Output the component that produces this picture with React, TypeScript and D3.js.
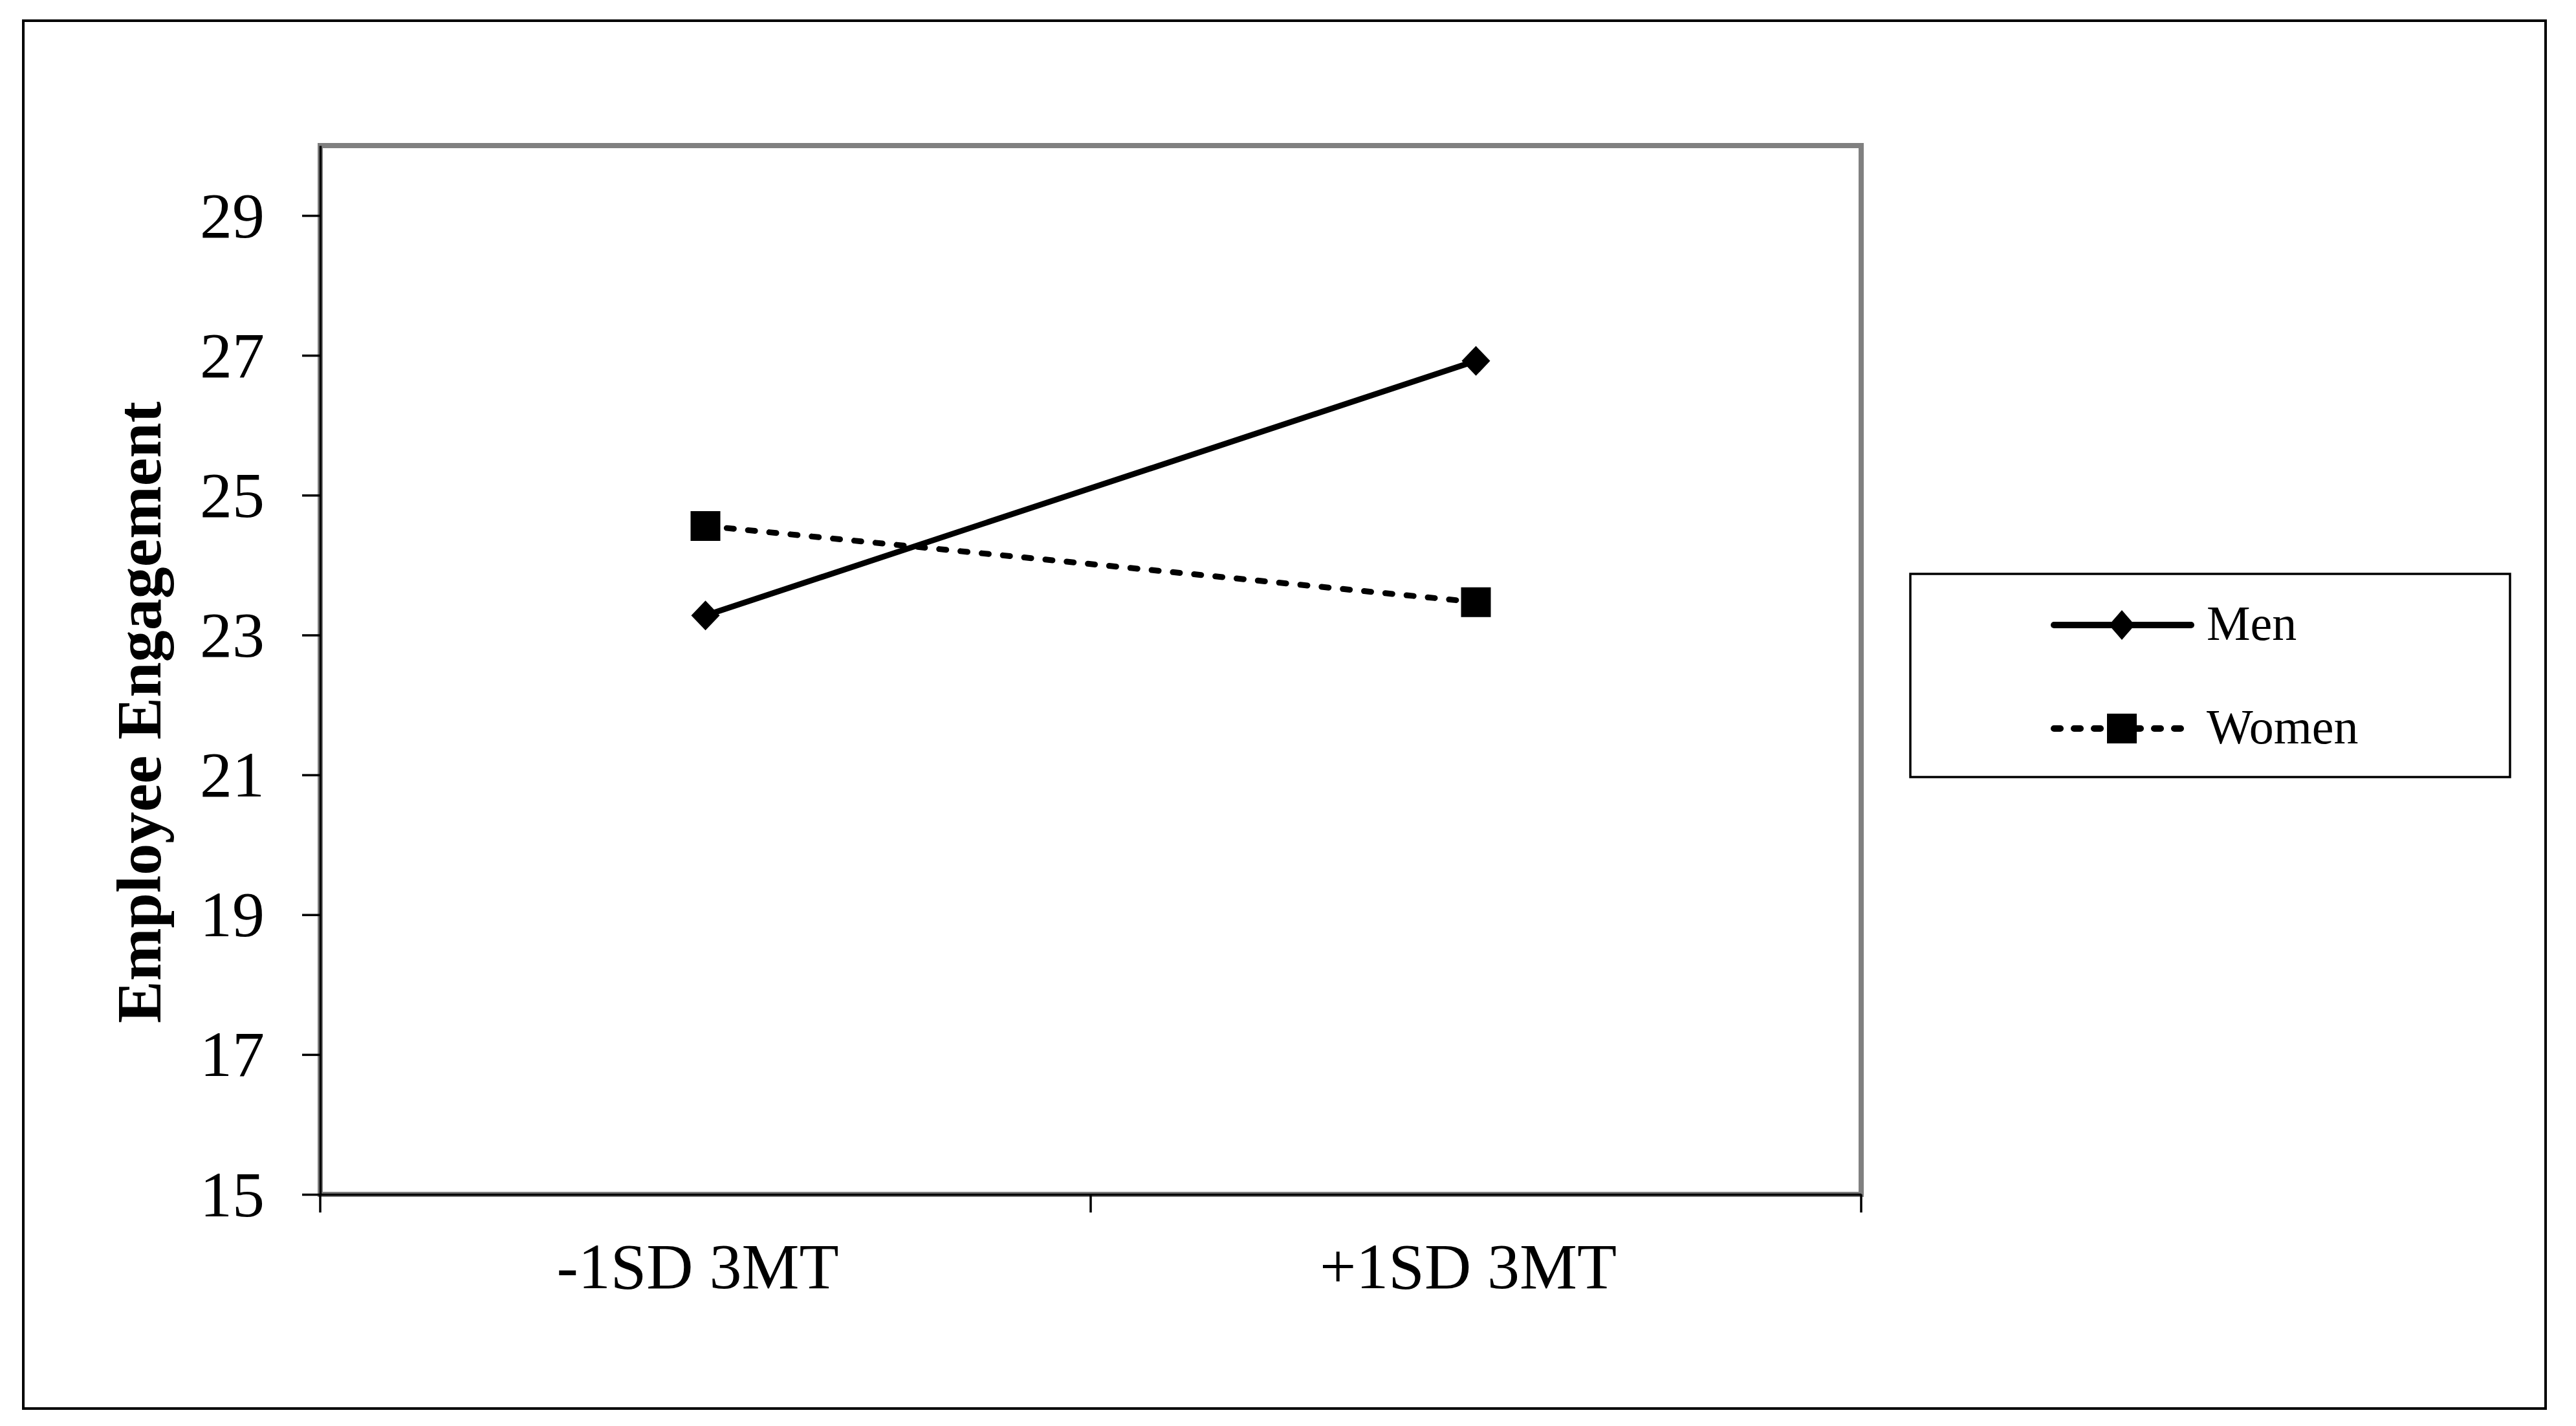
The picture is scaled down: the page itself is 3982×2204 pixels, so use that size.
import React, { useRef, useEffect } from "react";
import * as d3 from "d3";

// chart values
const categories = ["-1SD 3MT", "+1SD 3MT"];
const seriesNames = ["Men", "Women"];
const menValues = [23.28, 26.92];
const womenValues = [24.56, 23.47];
const yTicks = [15, 17, 19, 21, 23, 25, 27, 29];
const yDomain = [15, 30];
const yTitle = "Employee Engagement";

const FONT = "'Liberation Serif', 'Times New Roman', Times, serif";

const App = () => {
    const ref = useRef(null);

    const width = 3982;
    const height = 2204;
    const plot = { left: 495, top: 225, right: 2877, bottom: 1846 };

    useEffect(() => {
        const svg = d3.select(ref.current);
        svg.selectAll("*").remove();

        // outer chart border
        svg.append("rect")
            .attr("x", 36)
            .attr("y", 32)
            .attr("width", 3935 - 36)
            .attr("height", 2177 - 32)
            .attr("fill", "white")
            .attr("stroke", "black")
            .attr("stroke-width", 4);

        const x = d3.scaleBand()
            .domain(categories)
            .range([plot.left, plot.right])
            .paddingInner(0)
            .paddingOuter(0);

        const y = d3.scaleLinear()
            .domain(yDomain)
            .range([plot.bottom, plot.top]);

        const cx = (c) => x(c) + x.bandwidth() / 2;

        // grey plot frame
        svg.append("rect")
            .attr("x", plot.left)
            .attr("y", plot.top)
            .attr("width", plot.right - plot.left)
            .attr("height", plot.bottom - plot.top)
            .attr("fill", "white")
            .attr("stroke", "#808080")
            .attr("stroke-width", 8);

        // y axis
        const yAxis = svg.append("g")
            .attr("transform", `translate(${plot.left},0)`)
            .call(d3.axisLeft(y).tickValues(yTicks).tickSize(28).tickSizeOuter(0).tickPadding(58).tickFormat(d3.format("d")));
        yAxis.select(".domain").attr("stroke", "black").attr("stroke-width", 3.5);
        yAxis.selectAll(".tick line").attr("stroke", "black").attr("stroke-width", 3.5);
        yAxis.selectAll(".tick text")
            .attr("font-family", FONT)
            .attr("font-size", 100)
            .attr("fill", "black")
            .attr("dy", "0.33em");

        // x axis: labels at band centres, ticks at band edges
        const xAxis = svg.append("g")
            .attr("transform", `translate(0,${plot.bottom})`)
            .call(d3.axisBottom(x).tickSize(0).tickSizeOuter(0).tickPadding(74));
        xAxis.select(".domain").attr("stroke", "black").attr("stroke-width", 3.5);
        xAxis.selectAll(".tick text")
            .attr("font-family", FONT)
            .attr("font-size", 100)
            .attr("fill", "black")
            .attr("dx", -12);

        const edges = [x.range()[0]].concat(categories.map((c) => x(c) + x.bandwidth()));
        xAxis.selectAll(".edge")
            .data(edges)
            .join("line")
            .attr("class", "edge")
            .attr("x1", (d) => d)
            .attr("x2", (d) => d)
            .attr("y1", 0)
            .attr("y2", 28)
            .attr("stroke", "black")
            .attr("stroke-width", 3.5);

        // y title
        svg.append("text")
            .attr("transform", "translate(248,1101) rotate(-90)")
            .attr("text-anchor", "middle")
            .attr("font-family", FONT)
            .attr("font-weight", "bold")
            .attr("font-size", 98)
            .attr("fill", "black")
            .text(yTitle);

        const diamond = (px, py, hw, hh) =>
            `M${px},${py - hh}L${px + hw},${py}L${px},${py + hh}L${px - hw},${py}Z`;

        const line = d3.line()
            .x((d) => cx(d.cat))
            .y((d) => y(d.value));

        const menData = categories.map((c, i) => ({ cat: c, value: menValues[i] }));
        const womenData = categories.map((c, i) => ({ cat: c, value: womenValues[i] }));

        // women (dashed, squares)
        svg.append("path")
            .datum(womenData)
            .attr("d", line)
            .attr("fill", "none")
            .attr("stroke", "black")
            .attr("stroke-width", 9)
            .attr("stroke-dasharray", "11,22")
            .attr("stroke-linecap", "round");

        // men (solid, diamonds)
        svg.append("path")
            .datum(menData)
            .attr("d", line)
            .attr("fill", "none")
            .attr("stroke", "black")
            .attr("stroke-width", 9);

        svg.selectAll(".sq")
            .data(womenData)
            .join("path")
            .attr("class", "sq")
            .attr("transform", (d) => `translate(${cx(d.cat)},${y(d.value)})`)
            .attr("d", d3.symbol().type(d3.symbolSquare).size(46 * 46))
            .attr("fill", "black");

        svg.selectAll(".dm")
            .data(menData)
            .join("path")
            .attr("class", "dm")
            .attr("d", (d) => diamond(cx(d.cat), y(d.value), 22, 23))
            .attr("fill", "black");

        // legend
        const legend = svg.append("g");
        legend.append("rect")
            .attr("x", 2953)
            .attr("y", 887)
            .attr("width", 3880 - 2953)
            .attr("height", 1201 - 887)
            .attr("fill", "white")
            .attr("stroke", "black")
            .attr("stroke-width", 3.5);

        const rows = legend.selectAll(".row")
            .data(seriesNames)
            .join("g")
            .attr("class", "row")
            .attr("transform", (d, i) => `translate(3280,${966 + i * 160})`);

        rows.append("line")
            .attr("x1", -105)
            .attr("x2", 107)
            .attr("y1", 0)
            .attr("y2", 0)
            .attr("stroke", "black")
            .attr("stroke-width", 10)
            .attr("stroke-linecap", "round")
            .attr("stroke-dasharray", (d) => (d === "Women" ? "10,21" : null));

        rows.append("path")
            .attr("d", (d) =>
                d === "Men"
                    ? diamond(0, 0, 20, 23)
                    : d3.symbol().type(d3.symbolSquare).size(46 * 46)())
            .attr("fill", "black");

        rows.append("text")
            .attr("x", 131)
            .attr("dy", "0.3em")
            .attr("font-family", FONT)
            .attr("font-size", 76)
            .attr("fill", "black")
            .text((d) => d);
    }, []);

    return (
        <svg
            ref={ref}
            width={width}
            height={height}
            style={{ position: "absolute", left: 0, top: 0, background: "white" }}
        />
    );
};

export default App;
